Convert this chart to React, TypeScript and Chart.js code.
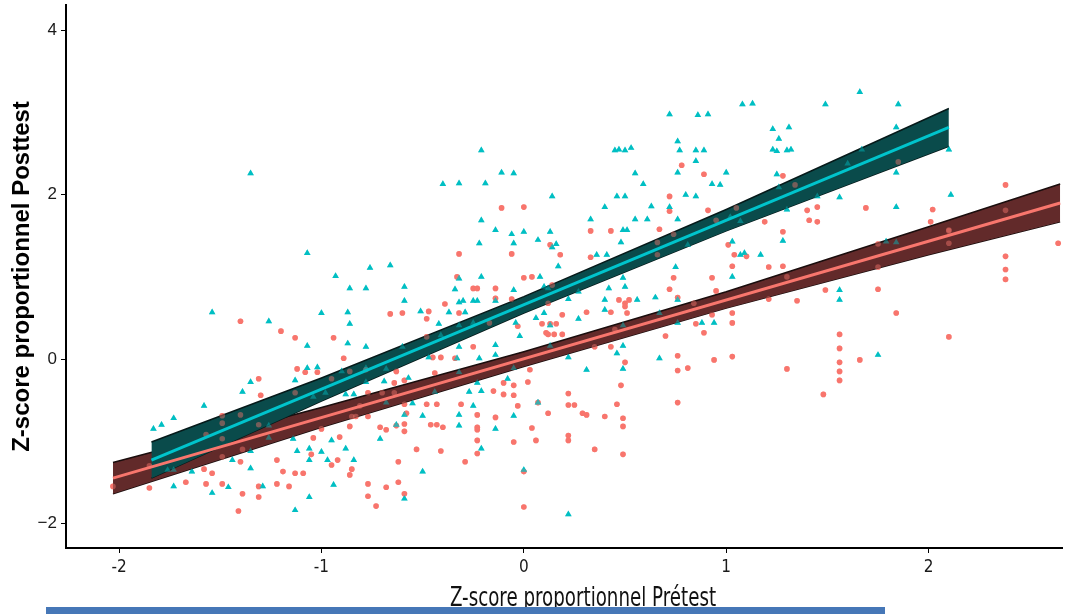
import React, { useEffect, useRef } from 'react';
import { Chart, registerables } from 'chart.js';

Chart.register(...registerables);

// Group 1 (red circles): [Prétest, Posttest]
const redPoints: number[][] = [
  [2.38, 2.12], [1.40, 1.81], [1.45, 1.85], [1.41, 1.69], [1.45, 1.67], [1.69, 1.84], [2.02, 1.82], [2.01, 1.67], [2.38, 1.81], [2.10, 1.57],
  [0.78, 2.36], [0.89, 2.25], [0.72, 1.98], [0.72, 1.80], [0.91, 1.81], [1.19, 1.67], [1.28, 2.23], [1.28, 1.55], [-0.11, 1.84], [0.0, 1.85],
  [0.33, 1.56], [0.43, 1.56], [0.67, 1.58], [1.34, 2.12], [1.05, 1.84], [0.95, 1.69], [0.74, 1.52], [1.85, 2.40],
  [1.10, 1.25], [1.21, 1.12], [1.28, 1.13], [0.93, 0.99], [1.30, 1.0],
  [-0.32, 1.28], [-0.06, 1.28], [0.13, 1.39], [0.18, 1.27], [0.33, 1.24], [-0.33, 1.0], [0.0, 0.99], [0.04, 1.0], [-0.25, 0.86], [-0.23, 0.86],
  [-0.14, 0.86], [-0.39, 0.67], [-0.47, 0.58], [-0.60, 0.56], [-0.48, 0.49], [-0.32, 0.56], [-0.14, 0.74], [-0.06, 0.73], [0.19, 0.54], [0.31, 0.57],
  [0.43, 0.57], [0.47, 0.72], [0.50, 0.68], [0.52, 0.72], [0.50, 0.64], [0.51, 0.56], [0.74, 0.99], [0.72, 0.85], [0.76, 0.75], [0.84, 0.68],
  [0.85, 0.43], [0.70, 0.28], [-0.03, 0.40], [0.09, 0.43], [0.13, 0.43], [0.16, 0.43], [0.11, 0.32], [0.12, 0.30], [0.15, 0.30], [0.19, 0.30],
  [-0.25, 0.15], [0.43, 0.15],
  [0.12, 0.68], [0.95, 0.83], [1.01, 1.39], [1.04, 1.27], [1.03, 1.13], [1.03, 0.56], [1.03, 0.44], [0.93, 0.54], [0.89, 0.32], [0.45, 0.36],
  [0.35, 0.15], [0.50, -0.04], [0.76, 0.04], [0.76, -0.14], [0.81, -0.11], [0.94, -0.01], [1.03, 0.03], [0.76, -0.53], [0.48, -0.32], [0.46, -0.55],
  [0.49, -0.72], [0.49, -0.82], [0.49, -1.16], [0.40, -0.70], [0.35, -1.10], [0.31, -0.68], [0.29, -0.66], [0.25, -0.56], [0.22, -0.56], [0.22, -0.42],
  [0.12, -0.66], [0.07, -0.53], [0.04, -0.84], [0.06, -0.99], [0.22, -0.93], [0.22, -0.99], [0.0, -1.37], [0.0, -1.80], [-0.05, -1.01], [-0.03, -0.57],
  [-0.05, -0.44], [-0.05, -0.32], [-0.10, -0.43], [-0.10, -0.29], [-0.14, -0.71], [-0.15, -0.39], [0.02, -0.28], [0.03, -0.13], [-0.23, -0.68], [-0.23, -0.83],
  [-0.23, -0.86], [-0.23, -0.99], [-0.23, -1.15], [-0.31, -0.55], [-0.43, -0.55], [-0.48, -0.55], [-0.46, -0.80], [-0.43, -0.80], [-0.40, -0.83], [-0.41, -1.12],
  [-0.29, -1.25], [-0.44, -0.17], [-0.45, 0.02], [-0.41, 0.02], [-0.34, 0.01],
  [0.14, 0.90], [-0.17, 0.44], [-0.48, 0.27], [0.66, 1.42], [0.66, 1.27],
  [1.21, 0.73], [1.35, 0.71], [1.49, 0.84], [1.75, 1.40], [1.75, 1.12], [1.75, 0.85], [1.84, 0.56], [2.10, 1.41], [2.64, 1.41], [2.38, 1.25],
  [2.38, 1.09], [2.38, 0.97], [2.10, 0.27], [1.56, 0.30], [1.56, 0.13], [1.56, -0.04], [1.56, -0.15], [1.56, -0.26], [1.66, -0.01], [1.30, -0.12],
  [1.48, -0.43], [2.10, 1.56],
  [-1.40, 0.46], [-1.20, 0.34], [-1.13, 0.26], [-0.94, 0.26], [-0.89, 0.01], [-0.66, 0.55], [-1.31, -0.24], [-1.30, -0.44], [-1.12, -0.12], [-1.08, -0.16],
  [-1.02, -0.16], [-0.63, -0.15], [-0.59, -0.26], [-0.64, -0.29], [-0.77, -0.41], [-0.70, -0.41], [-0.64, -0.41], [-0.59, -0.55], [-0.58, -0.66], [-0.59, -0.79],
  [-0.59, -0.88], [-0.71, -0.83], [-0.68, -0.86], [-0.63, -0.81], [-0.77, -0.70], [-0.85, -0.70], [-0.83, -0.70], [-0.81, -0.57], [-0.86, -0.82], [-0.91, -0.95],
  [-1.0, -0.85], [-1.04, -0.96], [-0.53, -1.10], [-0.62, -1.25], [-0.62, -1.50], [-0.59, -1.64], [-0.68, -1.56], [-0.77, -1.52], [-0.77, -1.67], [-0.73, -1.79],
  [-0.85, -1.34], [-0.86, -1.41], [-0.92, -1.23], [-0.95, -1.29], [-1.05, -1.16], [-1.09, -1.39], [-1.13, -1.39], [-1.19, -1.37], [-1.22, -1.23], [-1.16, -1.55],
  [-1.22, -1.52], [-1.31, -1.55], [-1.31, -1.68], [-1.39, -1.64], [-1.41, -1.85], [-1.49, -1.52], [-1.57, -1.52], [-1.67, -1.50], [-1.85, -1.57], [-2.03, -1.55],
  [-1.85, -1.30], [-1.58, -1.34], [-1.54, -1.39], [-1.49, -1.19], [-1.39, -1.10], [-1.40, -1.25],
  [-1.13, -0.41], [-0.95, -0.24], [-0.86, -0.15], [-0.78, -0.13], [-1.40, -0.68], [-1.49, -0.78], [-1.49, -0.69], [-1.57, -0.92], [-1.49, -0.97], [-1.31, -0.80],
];

// Group 2 (cyan triangles): [Prétest, Posttest]
const cyanPoints: number[][] = [
  [0.72, 2.98], [0.86, 2.97], [0.91, 2.98], [1.08, 3.10], [1.13, 3.11], [1.49, 3.10], [1.66, 3.25], [1.85, 3.10], [1.23, 2.80], [1.31, 2.82],
  [1.26, 2.68], [1.23, 2.55], [1.25, 2.53], [1.30, 2.54], [1.32, 2.55], [0.76, 2.65], [0.77, 2.54], [0.85, 2.54], [0.89, 2.54], [0.85, 2.41],
  [0.76, 2.27], [1.0, 2.27], [0.93, 2.13], [0.97, 2.12], [0.80, 2.0], [0.85, 1.98], [0.72, 1.85], [0.76, 1.70], [1.02, 1.73], [1.07, 1.68],
  [1.25, 2.25], [1.26, 2.09], [1.30, 1.82], [1.84, 2.82], [1.67, 2.55], [1.60, 2.38], [1.84, 2.27], [2.10, 2.55], [1.45, 1.98], [1.56, 1.97],
  [2.11, 2.0], [1.84, 1.85],
  [0.45, 2.54], [0.47, 2.55], [0.50, 2.54], [0.53, 2.57], [0.55, 2.26], [0.59, 2.13], [0.46, 1.98], [0.50, 1.98], [0.40, 1.85], [0.63, 1.86],
  [0.33, 1.70], [0.55, 1.70], [0.61, 1.70], [0.49, 1.57], [0.51, 1.57], [-0.11, 2.27], [-0.05, 2.26], [0.14, 1.98], [-0.06, 1.52], [0.0, 1.55],
  [0.13, 1.55],
  [-1.35, 2.26], [-0.21, 2.54], [-0.40, 2.13], [-0.32, 2.14], [-0.19, 2.14], [-0.21, 1.69], [-0.14, 1.57],
  [-0.05, 1.41], [-0.22, 1.41], [0.07, 1.45], [0.16, 1.40], [0.14, 1.36], [0.48, 1.42], [0.36, 1.27], [0.41, 1.27], [0.75, 1.12], [0.81, 1.39],
  [-0.59, 0.88], [-0.59, 0.71], [-0.51, 0.58], [-0.42, 0.43], [-0.37, 0.57], [-0.34, 0.85], [-0.32, 0.69], [-0.30, 0.71], [-0.29, 0.57], [-0.25, 0.71],
  [-0.23, 0.71], [-0.21, 1.0], [-0.14, 0.71], [-0.05, 0.84], [0.08, 1.0], [0.10, 0.88], [0.22, 0.73], [0.10, 0.56], [0.06, 0.50], [0.27, 0.49],
  [0.40, 0.72], [0.40, 0.60], [0.42, 0.86], [0.49, 0.99], [0.50, 0.88], [0.56, 0.72], [0.65, 0.75], [0.76, 0.72], [0.76, 0.44], [0.67, 0.56],
  [-0.41, 0.29], [-0.32, 0.41], [-0.04, 0.44], [-0.02, 0.28], [-0.14, 0.17], [0.13, 0.41], [-0.32, 0.15], [0.49, 0.41], [0.49, 0.16], [0.13, 0.16],
  [0.17, 1.13], [-0.32, 0.98], [0.12, 0.86], [0.27, 0.82], [1.03, 1.0], [1.03, 1.43], [1.07, 1.27], [0.88, 0.44], [0.94, 0.44], [0.46, 0.07],
  [0.49, -0.12], [0.67, 0.01], [-0.25, 0.44], [-0.22, 0.01], [-0.33, 0.01], [-0.14, 0.05], [-0.05, -0.11], [0.31, -0.13], [0.22, 0.02], [-0.32, -0.16],
  [-0.47, 0.02], [-0.44, -0.40], [-0.27, -0.40], [-0.21, -0.39], [-0.23, -0.29], [-0.08, -0.24], [-0.32, -0.68], [-0.25, -0.57], [-0.05, -0.69], [-0.14, -0.85],
  [-0.32, -0.81], [0.07, -0.53], [-0.21, -1.09], [-0.50, -1.37], [0.0, -1.35], [0.22, -1.89], [-0.50, -0.69],
  [1.56, 0.84], [1.56, 0.72], [1.75, 0.05], [1.17, 1.27], [1.09, 1.29], [1.28, 1.44], [1.79, 1.43], [1.84, 1.42],
  [-1.07, 1.29], [-0.93, 1.01], [-0.76, 1.11], [-0.66, 1.14], [-0.86, 0.86], [-0.78, 0.86], [-1.54, 0.57], [-1.26, 0.46], [-1.0, 0.56], [-0.87, 0.57],
  [-0.86, 0.43], [-1.07, 0.16], [-0.87, 0.19], [-0.78, 0.15], [-0.60, 0.15], [-1.07, -0.11], [-1.02, -0.10], [-1.13, -0.26], [-1.35, -0.28], [-1.39, -0.40],
  [-1.58, -0.57], [-1.83, -0.85], [-1.79, -0.80], [-1.73, -0.72], [-0.90, -0.15], [-0.78, -0.11], [-0.68, -0.12], [-0.69, -0.27], [-0.57, -0.23], [-0.78, -0.28],
  [-0.84, -0.43], [-0.88, -0.43], [-0.98, -0.41], [-1.04, -0.46], [-0.68, -0.53], [-0.59, -0.68], [-0.55, -0.54], [-0.63, -0.80], [-0.71, -0.97], [-0.88, -1.09],
  [-0.95, -0.99], [-1.06, -1.09], [-1.12, -1.12], [-1.0, -1.13], [-0.84, -1.23], [-0.97, -1.23], [-1.06, -1.23], [-1.35, -1.33], [-1.35, -1.12], [-1.44, -1.23],
  [-1.14, -0.97], [-1.26, -0.96], [-1.26, -0.81], [-1.64, -1.37], [-1.76, -1.35], [-1.73, -1.35], [-1.73, -1.55], [-1.54, -1.63], [-1.46, -1.56], [-1.29, -1.55],
  [-0.94, -1.53], [-1.06, -1.68], [-1.13, -1.84], [-0.59, -1.70],
];

// Regression lines (end points)
const redLineX = [-2.03, 2.65];
const redLineY = [-1.45, 1.90];
const cyanLineX = [-1.84, 2.10];
const cyanLineY = [-1.23, 2.82];

// Confidence bands
const redBandX = [-2.03, -1, 0, 1, 2, 2.65];
const redBandUpper = [-1.26, -0.59, 0.09, 0.82, 1.61, 2.13];
const redBandLower = [-1.64, -0.83, -0.09, 0.62, 1.27, 1.67];
const cyanBandX = [-1.84, -1, 0, 1, 2.10];
const cyanBandUpper = [-1.01, -0.23, 0.76, 1.82, 3.05];
const cyanBandLower = [-1.45, -0.51, 0.56, 1.56, 2.59];

const xTicks = [-2, -1, 0, 1, 2];
const yTicks = [-2, 0, 2, 4];

const xTitle = 'Z-score proportionnel Prétest';
const yTitle = 'Z-score proportionnel Posttest';

const toXY = (pts: number[][]) => pts.map(([x, y]) => ({ x, y }));
const zipXY = (xs: number[], ys: number[]) => xs.map((x, i) => ({ x, y: ys[i] }));

const narrowFont = "'Liberation Sans Narrow', 'DejaVu Sans Condensed', sans-serif";

// Condensed x-axis title drawn under the axis
const xTitlePlugin = {
  id: 'xTitleCondensed',
  afterDraw(chart: any) {
    const ctx = chart.ctx;
    ctx.save();
    ctx.translate(583, 606);
    ctx.scale(0.78, 1);
    ctx.font = `26px ${narrowFont}`;
    ctx.fillStyle = '#111';
    ctx.textAlign = 'center';
    ctx.textBaseline = 'alphabetic';
    ctx.fillText(xTitle, 0, 0);
    ctx.restore();
  },
};

export default function App() {
  const ref = useRef<HTMLCanvasElement | null>(null);

  useEffect(() => {
    if (!ref.current) return;
    const pointBase = { showLine: false, borderWidth: 0, pointBorderWidth: 0, pointHoverRadius: 0 };
    const chart = new Chart(ref.current, {
      type: 'scatter',
      data: {
        datasets: [
          // underlying points
          { ...pointBase, data: toXY(redPoints), pointStyle: 'circle', pointRadius: 2.8, backgroundColor: '#F8766D', order: 10 } as any,
          { ...pointBase, data: toXY(cyanPoints), pointStyle: 'triangle', pointRadius: 3.8, backgroundColor: '#00BFC4', order: 9 } as any,
          // red band
          { type: 'line', data: zipXY(redBandX, redBandUpper), showLine: true, fill: '+1', backgroundColor: '#622A2A', borderColor: '#1a0d0d', borderWidth: 1.5, pointRadius: 0, order: 8 } as any,
          { type: 'line', data: zipXY(redBandX, redBandLower), showLine: true, fill: false, borderColor: '#1a0d0d', borderWidth: 1.5, pointRadius: 0, order: 8 } as any,
          // cyan band
          { type: 'line', data: zipXY(cyanBandX, cyanBandUpper), showLine: true, fill: '+1', backgroundColor: '#0A4B4B', borderColor: '#061a1a', borderWidth: 1.5, pointRadius: 0, order: 7 } as any,
          { type: 'line', data: zipXY(cyanBandX, cyanBandLower), showLine: true, fill: false, borderColor: '#061a1a', borderWidth: 1.5, pointRadius: 0, order: 7 } as any,
          // translucent points on top of the bands
          { ...pointBase, data: toXY(redPoints), pointStyle: 'circle', pointRadius: 2.8, backgroundColor: 'rgba(248,118,109,0.45)', order: 4 } as any,
          { ...pointBase, data: toXY(cyanPoints), pointStyle: 'triangle', pointRadius: 3.8, backgroundColor: 'rgba(0,191,196,0.45)', order: 3 } as any,
          // regression lines
          { type: 'line', data: zipXY(redLineX, redLineY), showLine: true, fill: false, borderColor: '#F8766D', borderWidth: 3, pointRadius: 0, order: 2 } as any,
          { type: 'line', data: zipXY(cyanLineX, cyanLineY), showLine: true, fill: false, borderColor: '#00C4CC', borderWidth: 3, pointRadius: 0, order: 1 } as any,
        ],
      },
      options: {
        responsive: false,
        animation: false,
        events: [],
        layout: { padding: { top: 5, right: 0, left: 0, bottom: 0 } },
        plugins: { legend: { display: false }, tooltip: { enabled: false } },
        scales: {
          x: {
            type: 'linear',
            min: -2.262,
            max: 2.66,
            afterBuildTicks: (s: any) => { s.ticks = xTicks.map((v) => ({ value: v })); },
            afterFit: (s: any) => { s.height = 66; s.paddingLeft = 0; s.paddingRight = 0; },
            ticks: {
              color: '#1a1a1a',
              padding: 4,
              font: { family: narrowFont, size: 17 },
              callback: (v: any) => String(v),
            },
            grid: { drawOnChartArea: false, drawTicks: true, tickLength: 5, color: '#000', lineWidth: 1 },
            border: { display: true, color: '#000', width: 2 },
            title: { display: false },
          },
          y: {
            type: 'linear',
            min: -2.30,
            max: 4.31,
            afterBuildTicks: (s: any) => { s.ticks = yTicks.map((v) => ({ value: v })); },
            afterFit: (s: any) => { s.width = 66; s.paddingTop = 0; s.paddingBottom = 0; },
            ticks: {
              color: '#1a1a1a',
              padding: 4,
              font: { family: "'Liberation Sans', Arial, sans-serif", size: 17 },
              callback: (v: any) => String(v).replace('-', '\u2212'),
            },
            grid: { drawOnChartArea: false, drawTicks: true, tickLength: 5, color: '#000', lineWidth: 1 },
            border: { display: true, color: '#000', width: 2 },
            title: {
              display: true,
              text: yTitle,
              color: '#000',
              font: { family: "'Liberation Sans', Arial, sans-serif", size: 24, weight: 'bold' },
              padding: { top: 8, bottom: 0 },
            },
          },
        },
      } as any,
      plugins: [xTitlePlugin],
    });
    return () => chart.destroy();
  }, []);

  return (
    <div style={{ position: 'absolute', left: 0, top: 0, width: 1066, height: 614, background: '#fff', overflow: 'hidden' }}>
      <canvas ref={ref} width={1066} height={614} style={{ display: 'block', width: 1066, height: 614 }} />
      <div style={{ position: 'absolute', left: 46, top: 607, width: 839, height: 7, background: '#4677B7' }} />
    </div>
  );
}
